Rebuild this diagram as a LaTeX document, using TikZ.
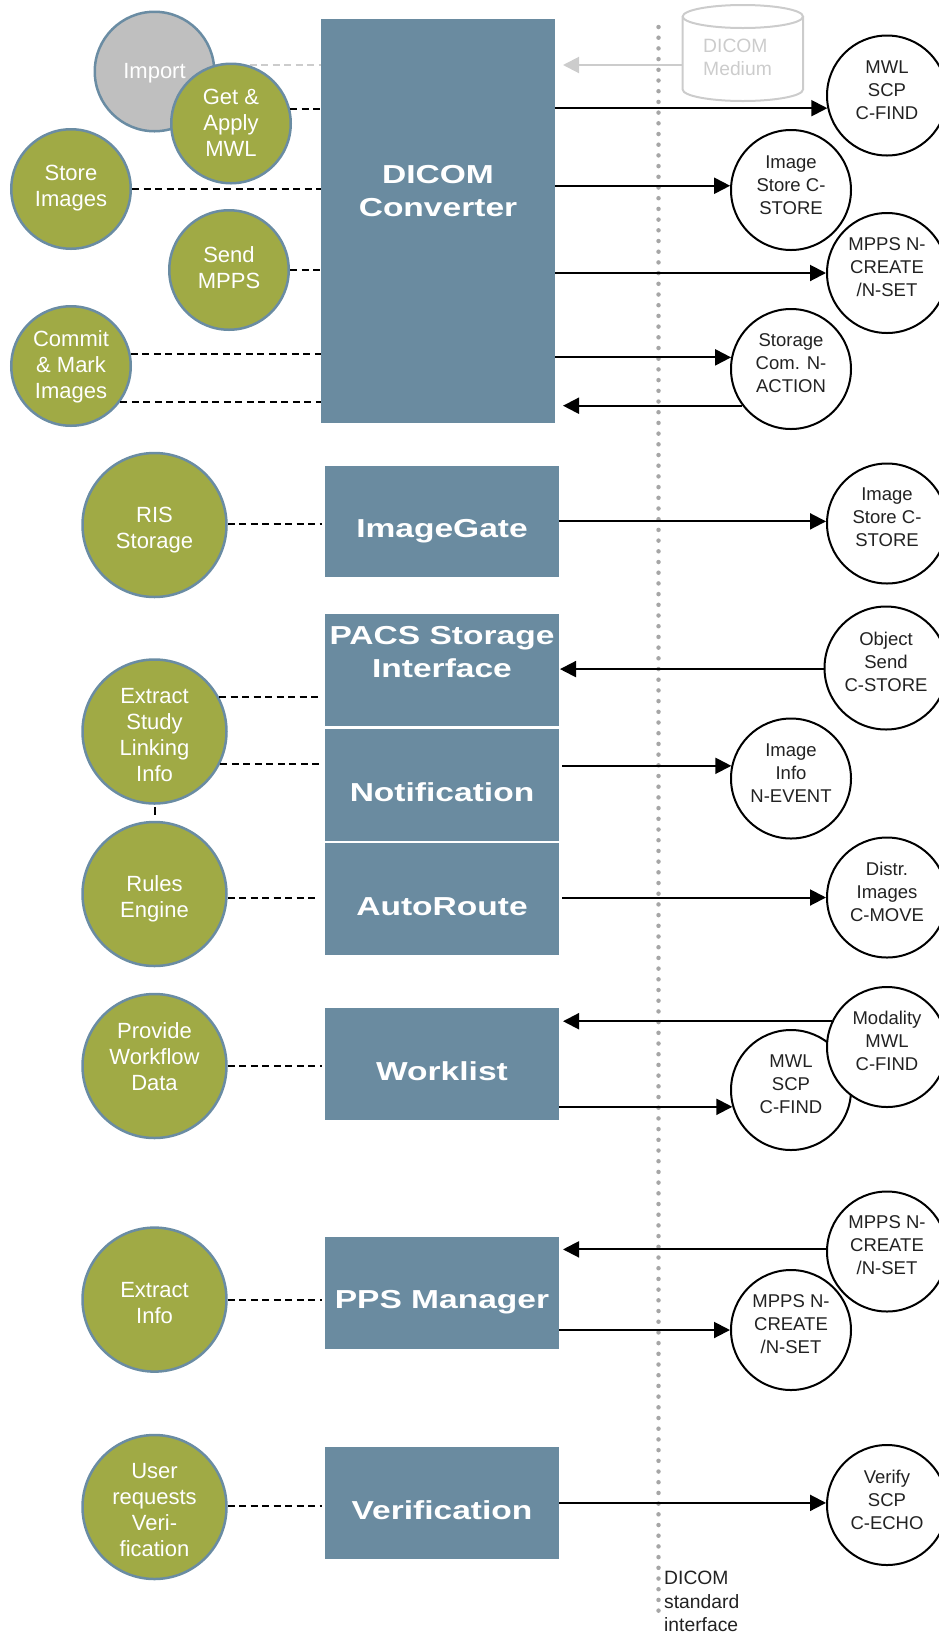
\documentclass[tikz,border=0pt]{standalone}
\usepackage{fontspec}
\setmainfont{Liberation Sans}
\newfontfamily\widebold{Liberation Sans}[FakeStretch=1.29]
\usetikzlibrary{arrows.meta}
\definecolor{steel}{HTML}{6A8BA0}
\definecolor{olive}{HTML}{A0AA45}
\definecolor{rim}{HTML}{6A8CA3}
\definecolor{lgray}{HTML}{CCCCCC}
\definecolor{mgray}{HTML}{BFBFBF}
\definecolor{dotc}{HTML}{A6A6A6}
\definecolor{ink}{HTML}{222222}
\newcommand\tx[3][c]{\smash{\raisebox{\dimexpr#2pt-0.37em\relax}{\begin{tabular}{@{}#1@{}}#3\end{tabular}}}}
\tikzset{
  boxnode/.style={rectangle,fill=steel,draw=none,minimum width=234pt,minimum height=112pt,inner sep=0pt,outer sep=0pt,text=white,font=\widebold\bfseries\fontsize{26}{33}\selectfont},
  gsmall/.style={circle,fill=olive,draw=rim,line width=2.5pt,minimum size=119.5pt,inner sep=0pt,text=white,font=\fontsize{22}{26}\selectfont},
  gbig/.style={gsmall,minimum size=144pt},
  gimport/.style={gsmall,fill=mgray},
  proto/.style={circle,fill=white,draw=black,line width=2pt,minimum size=120pt,inner sep=0pt,text=ink,font=\fontsize{18.5}{23}\selectfont},
  dsh/.style={draw=black,line width=2pt,dash pattern=on 7pt off 4.5pt},
  dshg/.style={draw=lgray,line width=2pt,dash pattern=on 7pt off 4.5pt},
  arr/.style={draw=black,line width=2pt,-{Triangle[length=16pt,width=16pt]}},
  arrg/.style={draw=lgray,line width=2pt,-{Triangle[length=16pt,width=16pt]}},
  plain/.style={text=ink,inner sep=0pt,font=\fontsize{19.3}{23.5}\selectfont},
}
\begin{document}
\begin{tikzpicture}[x=1pt,y=-1pt]
\useasboundingbox (0,0) rectangle (938,1634);
% DICOM standard interface
\coordinate (dotA) at (658.5,27);
\coordinate (dotB) at (658.5,1620);
\draw[dotc,line width=4.5pt,line cap=round,dash pattern=on 0pt off 10.7pt] (dotA) -- (dotB);
\node[plain,anchor=west] (dicomlabel) at (664,1601.5) {\tx[l]{0}{DICOM\\standard\\interface}};
% boxes
\node[boxnode,minimum height=404pt] (conv) at (438,221) {\tx{31}{DICOM\\Converter}};
\node[boxnode,minimum height=111pt] (gate) at (442,521.5) {\tx{-6}{ImageGate}};
\node[boxnode] (pacs) at (442,670) {\tx{19}{PACS Storage\\Interface}};
\node[boxnode] (notif) at (442,785) {\tx{-6.5}{Notification}};
\node[boxnode] (auto) at (442,899) {\tx{-6.5}{AutoRoute}};
\node[boxnode] (work) at (442,1064) {\tx{-6}{Worklist}};
\node[boxnode] (pps) at (442,1293) {\tx{-5.5}{PPS Manager}};
\node[boxnode] (verif) at (442,1503.3) {\tx{-6}{Verification}};
% medium
\node[inner sep=0pt,minimum width=120pt,minimum height=96pt] (cyl) at (742.85,53) {};
\coordinate (cylport) at (682.7,65);
\draw[lgray,line width=2pt] (682.7,16.5) -- (682.7,89.5) arc[start angle=180,end angle=360,x radius=60.15pt,y radius=11.5pt] -- (803,16.5);
\draw[lgray,line width=2pt] (742.85,16.5) ellipse[x radius=60.15pt,y radius=11.5pt];
\node[plain,text=lgray,anchor=west,font=\fontsize{19.3}{23}\selectfont] (cylt) at (703,57.5) {\tx[l]{0}{DICOM\\Medium}};
\draw[arrg,shorten >=8pt] (cylport) -- (conv.east |- cylport);
% left functions
\node[gimport] (imp) at (154.5,71.5) {\tx{1}{Import}};
\draw[dshg] (imp.6.2) -- (conv.west |- imp.6.2);
\node[gsmall] (get) at (231,123.5) {\tx{1.5}{Get \&\\Apply\\MWL}};
\node[gsmall] (store) at (71,189) {\tx{4}{Store\\Images}};
\node[gsmall] (send) at (229,270) {\tx{3}{Send\\MPPS}};
\node[gsmall] (commit) at (71,366) {\tx{2}{Commit\\\& Mark\\Images}};
\node[gbig] (ris) at (154.5,525) {\tx{-2.5}{RIS\\Storage}};
\node[gbig] (extract) at (154.5,731.5) {\tx{-2.5}{Extract\\Study\\Linking\\Info}};
\node[gbig] (rules) at (154.5,894) {\tx{-2.5}{Rules\\Engine}};
\node[gbig] (prov) at (154.5,1066) {\tx{10}{Provide\\Workflow\\Data}};
\node[gbig] (xinfo) at (154.5,1299.6) {\tx{-2.5}{Extract\\Info}};
\node[gbig] (user) at (154.5,1507) {\tx{-2.5}{User\\requests\\Veri-\\fication}};
% dashed links
\draw[dsh] (get.14.3) -- (conv.west |- get.14.3);
\draw[dsh] (store.east) -- (conv.west |- store.east);
\draw[dsh] (send.east) -- (conv.west |- send.east);
\draw[dsh] (commit.11.5) -- (conv.west |- commit.11.5);
\draw[dsh] (commit.-36.9) -- (conv.west |- commit.-36.9);
\draw[dsh,shorten >=3pt] (ris.1.6) -- (gate.west |- ris.1.6);
\draw[dsh,shorten >=3pt] (extract.28.4) -- (pacs.west |- extract.28.4);
\draw[dsh,shorten >=3pt] (extract.-26.6) -- (notif.west |- extract.-26.6);
\draw[dsh,shorten >=6pt] (rules.-3.2) -- (auto.west |- rules.-3.2);
\draw[dsh,shorten >=3pt] (prov.east) -- (work.west |- prov.east);
\draw[dsh,shorten >=3pt] (xinfo.east) -- (pps.west |- xinfo.east);
\draw[dsh,shorten >=3pt] (user.1.6) -- (verif.west |- user.1.6);
\draw[black,line width=2pt,dash pattern=on 0pt off 2pt on 8pt off 30pt] (extract.south) -- (rules.north);
% protocol circles
\node[proto] (mwl) at (887,95.5) {\tx{6.5}{MWL\\SCP\\C-FIND}};
\node[proto] (imgs) at (791,190) {\tx{6}{Image\\Store C-\\STORE}};
\node[proto] (mpps) at (887,273) {\tx{6.5}{MPPS N-\\CREATE\\/N-SET}};
\node[proto] (stcom) at (791,369) {\tx{6.5}{Storage\\Com. N-\\ACTION}};
\node[proto] (imgs2) at (887,523.5) {\tx{7}{Image\\Store C-\\STORE}};
\node[proto,minimum size=123pt] (obj) at (886,668) {\tx{7}{Object\\Send\\C-STORE}};
\node[proto] (info) at (791,778.5) {\tx{6.5}{Image\\Info\\N-EVENT}};
\node[proto] (distr) at (887,897.5) {\tx{6.5}{Distr.\\Images\\C-MOVE}};
\node[proto] (mwl2) at (791,1090) {\tx{6.5}{MWL\\SCP\\C-FIND}};
\node[proto] (moda) at (887,1047) {\tx{6.5}{Modality\\MWL\\C-FIND}};
\node[proto] (mppsr) at (887,1251.5) {\tx{7}{MPPS N-\\CREATE\\/N-SET}};
\node[proto] (mppsl) at (791,1330) {\tx{6.5}{MPPS N-\\CREATE\\/N-SET}};
\node[proto] (echo) at (887,1505) {\tx{6}{Verify\\SCP\\C-ECHO}};
% arrows
\draw[arr] (conv.east |- mwl.192.7) -- (mwl.192.7);
\draw[arr] (conv.east |- imgs.176.2) -- (imgs.176.2);
\draw[arr] (conv.east |- mpps.west) -- (mpps.west);
\draw[arr] (conv.east |- stcom.169) -- (stcom.169);
\draw[arr,shorten >=8pt] (stcom.217.7) -- (conv.east |- stcom.217.7);
\draw[arr] (gate.east |- imgs2.178.6) -- (imgs2.178.6);
\draw[arr,shorten >=1pt] (obj.181) -- (pacs.east |- obj.181);
\draw[arr,shorten <=3pt] (notif.east |- info.168.7) -- (info.168.7);
\draw[arr,shorten <=3pt] (auto.east |- distr.west) -- (distr.west);
\draw[arr,shorten >=4pt] (moda.155.4) -- (work.east |- moda.155.4);
\draw[arr] (work.east |- mwl2.196.2) -- (mwl2.196.2);
\draw[arr,shorten >=4pt] (mppsr.178) -- (pps.east |- mppsr.178);
\draw[arr] (pps.east |- mppsl.west) -- (mppsl.west);
\draw[arr] (verif.east |- echo.178) -- (echo.178);
\end{tikzpicture}
\end{document}
